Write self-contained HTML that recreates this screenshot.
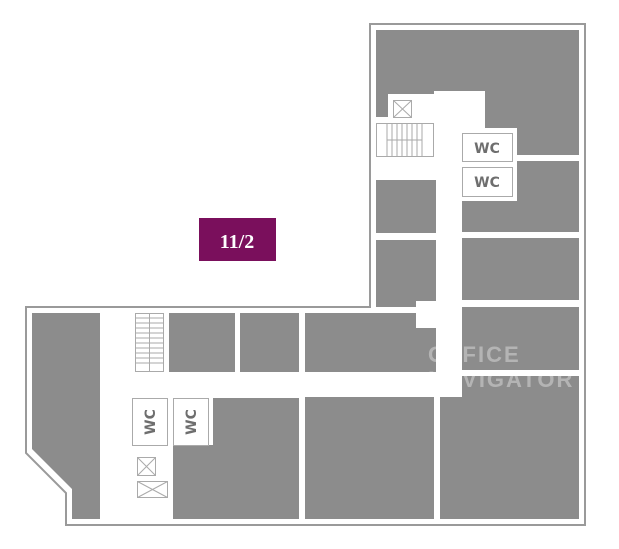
<!DOCTYPE html>
<html><head><meta charset="utf-8"><style>html,body{margin:0;padding:0;background:#fff}svg{display:block}</style></head><body>
<svg width="619" height="549" viewBox="0 0 619 549" xmlns="http://www.w3.org/2000/svg">
<rect width="619" height="549" fill="#fff"/>
<polygon points="370,24 585,24 585,525 66,525 66,493 26,453 26,307 370,307" fill="#fff" stroke="#9a9a9a" stroke-width="2"/>
<g fill="#8c8c8c">
<rect x="376" y="30" width="203" height="125"/>
<rect x="462" y="161" width="117" height="71"/>
<rect x="462" y="238" width="117" height="62"/>
<rect x="462" y="307" width="117" height="63"/>
<rect x="440" y="376" width="139" height="143"/>
<rect x="376" y="180" width="61" height="53"/>
<rect x="376" y="240" width="61" height="61"/>
<rect x="376" y="301" width="40" height="6"/>
<rect x="305" y="313" width="132" height="59"/>
<rect x="305" y="397" width="129" height="122"/>
<rect x="169" y="313" width="66" height="59"/>
<rect x="240" y="313" width="59" height="59"/>
<polygon points="32,313 100,313 100,519 72,519 72,489 32,449"/>
<polygon points="213,398 299,398 299,519 173,519 173,445 213,445"/>
</g>
<g fill="#fff">
<rect x="388" y="94" width="46" height="30"/>
<rect x="434" y="91" width="51" height="40"/>
<rect x="376" y="117" width="60" height="63"/>
<rect x="436" y="91" width="26" height="306"/>
<rect x="462" y="128" width="55" height="73"/>
<rect x="416" y="302" width="21" height="26"/>
</g>
<g fill="#fff" stroke="#aaa" stroke-width="1">
<rect x="376.5" y="123.5" width="57" height="33"/>
<rect x="393.5" y="100.5" width="18" height="17"/>
<rect x="462.5" y="133.5" width="50" height="28"/>
<rect x="462.5" y="167.5" width="50" height="29"/>
<rect x="135.5" y="313.5" width="28" height="58"/>
<rect x="132.5" y="398.5" width="35" height="47"/>
<rect x="173.5" y="398.5" width="35" height="47"/>
<rect x="137.5" y="457.5" width="18" height="18"/>
<rect x="137.5" y="481.5" width="30" height="16"/>
</g>
<g stroke="#aaa" stroke-width="1" fill="none">
<path d="M393.5,100.5 L411.5,117.5 M411.5,100.5 L393.5,117.5"/>
<path d="M137.5,457.5 L155.5,475.5 M155.5,457.5 L137.5,475.5"/>
<path d="M137.5,481.5 L167.5,497.5 M167.5,481.5 L137.5,497.5"/>
<path d="M387,140 H422 M387,123.5 V156.5 M422,123.5 V156.5 M392,124 V156 M397,124 V156 M402,124 V156 M407,124 V156 M412,124 V156 M417,124 V156"/>
<path d="M149.5,313.5 V371.5 M136,318 H163 M136,323 H163 M136,328 H163 M136,333 H163 M136,338 H163 M136,343 H163 M136,348 H163 M136,353 H163 M136,358 H163 M136,363 H163"/>
</g>
<g font-family="DejaVu Sans, sans-serif" font-weight="bold" font-size="14" fill="#6e6e6e" text-anchor="middle">
<text x="487" y="153">WC</text>
<text x="487" y="187">WC</text>
<text transform="translate(155,422) rotate(-90)" y="0">WC</text>
<text transform="translate(196,422) rotate(-90)" y="0">WC</text>
</g>
<rect x="199" y="218" width="77" height="43" fill="#7a0f5c"/>
<text x="237" y="248" font-family="Liberation Serif, serif" font-weight="bold" font-size="20" fill="#fff" text-anchor="middle">11/2</text>
<g font-family="Liberation Sans, sans-serif" font-weight="bold" font-size="22" fill="#fff" fill-opacity="0.35" letter-spacing="2">
<text x="428" y="362">OFFICE</text>
<text x="428" y="387">NAVIGATOR</text>
</g>
</svg>
</body></html>
